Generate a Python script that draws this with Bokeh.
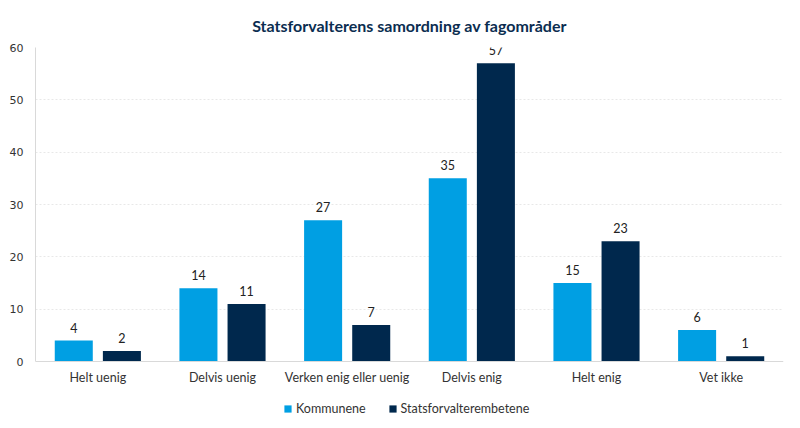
from bokeh.plotting import figure
from bokeh.models import ColumnDataSource, FactorRange, Range1d, Legend, LegendItem, LabelSet
from bokeh.core.properties import value
from bokeh.transform import dodge
from bokeh.embed import file_html
from bokeh.resources import INLINE

categories = ["Helt uenig", "Delvis uenig", "Verken enig eller uenig", "Delvis enig", "Helt enig", "Vet ikke"]
kommunene = [4, 14, 27, 35, 15, 6]
statsforvalter = [2, 11, 7, 57, 23, 1]
series_names = ["Kommunene", "Statsforvalterembetene"]
y_ticks = [0, 10, 20, 30, 40, 50, 60]

BLUE = "#009FE3"
NAVY = "#00284D"

src = ColumnDataSource(data=dict(cat=categories, k=kommunene, s=statsforvalter,
                                 kl=[str(v) for v in kommunene], sl=[str(v) for v in statsforvalter]))

# frame extends below zero so the legend (drawn inside the frame) sits under the category labels
p = figure(frame_width=748, frame_height=373, output_backend="svg", toolbar_location=None,
           x_range=FactorRange(*categories, range_padding=0), y_range=Range1d(-11.27, 60),
           min_border_left=35, min_border_right=9, min_border_top=47, min_border_bottom=0,
           title="Statsforvalterens samordning av fagområder")

p.title.align = "center"
p.title.vertical_align = "top"
p.title.text_font = "Lato"
p.title.text_font_size = "16px"
p.title.text_font_style = "bold"
p.title.text_color = "#0B2D50"
p.title.standoff = 22

r1 = p.vbar(x=dodge("cat", -0.193, range=p.x_range), top="k", width=0.305, source=src,
            fill_color=BLUE, line_color=None)
r2 = p.vbar(x=dodge("cat", 0.193, range=p.x_range), top="s", width=0.305, source=src,
            fill_color=NAVY, line_color=None)

for col, lab, off in (("k", "kl", -0.193), ("s", "sl", 0.193)):
    p.add_layout(LabelSet(x=dodge("cat", off, range=p.x_range), y=col, text=lab, source=src,
                          text_align="center", text_baseline="bottom", y_offset=8,
                          text_font=value("Lato"), text_font_size="12.5px", text_color="#222222"))

p.yaxis.ticker = y_ticks
p.yaxis.bounds = (0, 60)
p.yaxis.major_tick_line_color = None
p.yaxis.minor_tick_line_color = None
p.yaxis.major_tick_out = 0
p.yaxis.major_label_text_font = "DejaVu Sans"
p.yaxis.major_label_text_font_size = "11px"
p.yaxis.major_label_text_color = "#333333"
p.yaxis.major_label_standoff = 12
p.yaxis.axis_line_color = "#D9D9D9"

p.xaxis.fixed_location = 0
p.xaxis.major_tick_line_color = None
p.xaxis.minor_tick_line_color = None
p.xaxis.major_tick_out = 0
p.xaxis.major_label_text_font = "Lato"
p.xaxis.major_label_text_font_size = "12.5px"
p.xaxis.major_label_text_color = "#333333"
p.xaxis.major_label_standoff = 8
p.xaxis.axis_line_color = "#D9D9D9"

p.xgrid.grid_line_color = None
p.ygrid.ticker = y_ticks
p.ygrid.grid_line_color = "#E8E8E8"
p.ygrid.grid_line_dash = "2 2"

legend = Legend(items=[LegendItem(label=series_names[0], renderers=[r1]),
                       LegendItem(label=series_names[1], renderers=[r2])],
                orientation="horizontal", location=(248, 4),
                label_text_font="Lato", label_text_font_size="12.5px", label_text_color="#333333",
                glyph_width=9, glyph_height=9, label_height=12, spacing=22, label_standoff=4,
                border_line_color=None, background_fill_alpha=0, padding=0, margin=0)
p.add_layout(legend, "center")

p.outline_line_color = None

open("out.html", "w").write(file_html(p, INLINE))
